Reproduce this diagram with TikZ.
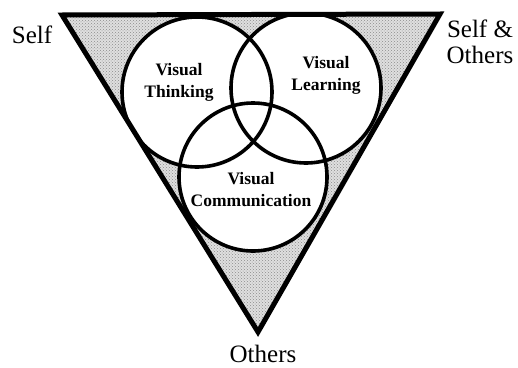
\documentclass[tikz,border=0pt]{standalone}
\usepackage{fontspec}
\setmainfont{Liberation Serif}
\usetikzlibrary{patterns}
\begin{document}
\begin{tikzpicture}[x=1pt,y=-1pt,
  ring/.style={line width=3.6pt},
  outer/.style={font=\fontsize{25}{26}\selectfont, align=center, inner sep=0pt},
  inner/.style={font=\bfseries\fontsize{17.5}{22}\selectfont, align=center, inner sep=0pt}]
\useasboundingbox (0,0) rectangle (518,367);
\coordinate (A) at (62,15);
\coordinate (B) at (440,14);
\coordinate (C) at (258,332);
\coordinate (cT) at (197,92);
\coordinate (cL) at (306,88);
\coordinate (cC) at (253,177);
\fill[gray!25] (A) -- (B) -- (C) -- cycle;
\fill[pattern=crosshatch dots, pattern color=gray!90] (A) -- (B) -- (C) -- cycle;
\begin{scope}
\clip (A) -- (B) -- (C) -- cycle;
\fill[white] (cT) circle (75);
\fill[white] (cL) circle (75);
\fill[white] (cC) circle (74);
\draw[ring] (cT) circle (75);
\draw[ring] (cL) circle (75);
\draw[ring] (cC) circle (74);
\end{scope}
\draw[line width=5pt, line join=miter] (A) -- (B) -- (C) -- cycle;
\node[inner] (vt) at (179,82) {Visual\\Thinking};
\node[inner] (vl) at (326,75) {Visual\\Learning};
\node[inner] (vc) at (251,190) {Visual\\Communication};
\node[outer] (self) at (32,35) {Self};
\node[outer] (so) at (480,42) {Self \&\\Others};
\node[outer] (oth) at (263,354) {Others};
\end{tikzpicture}
\end{document}
